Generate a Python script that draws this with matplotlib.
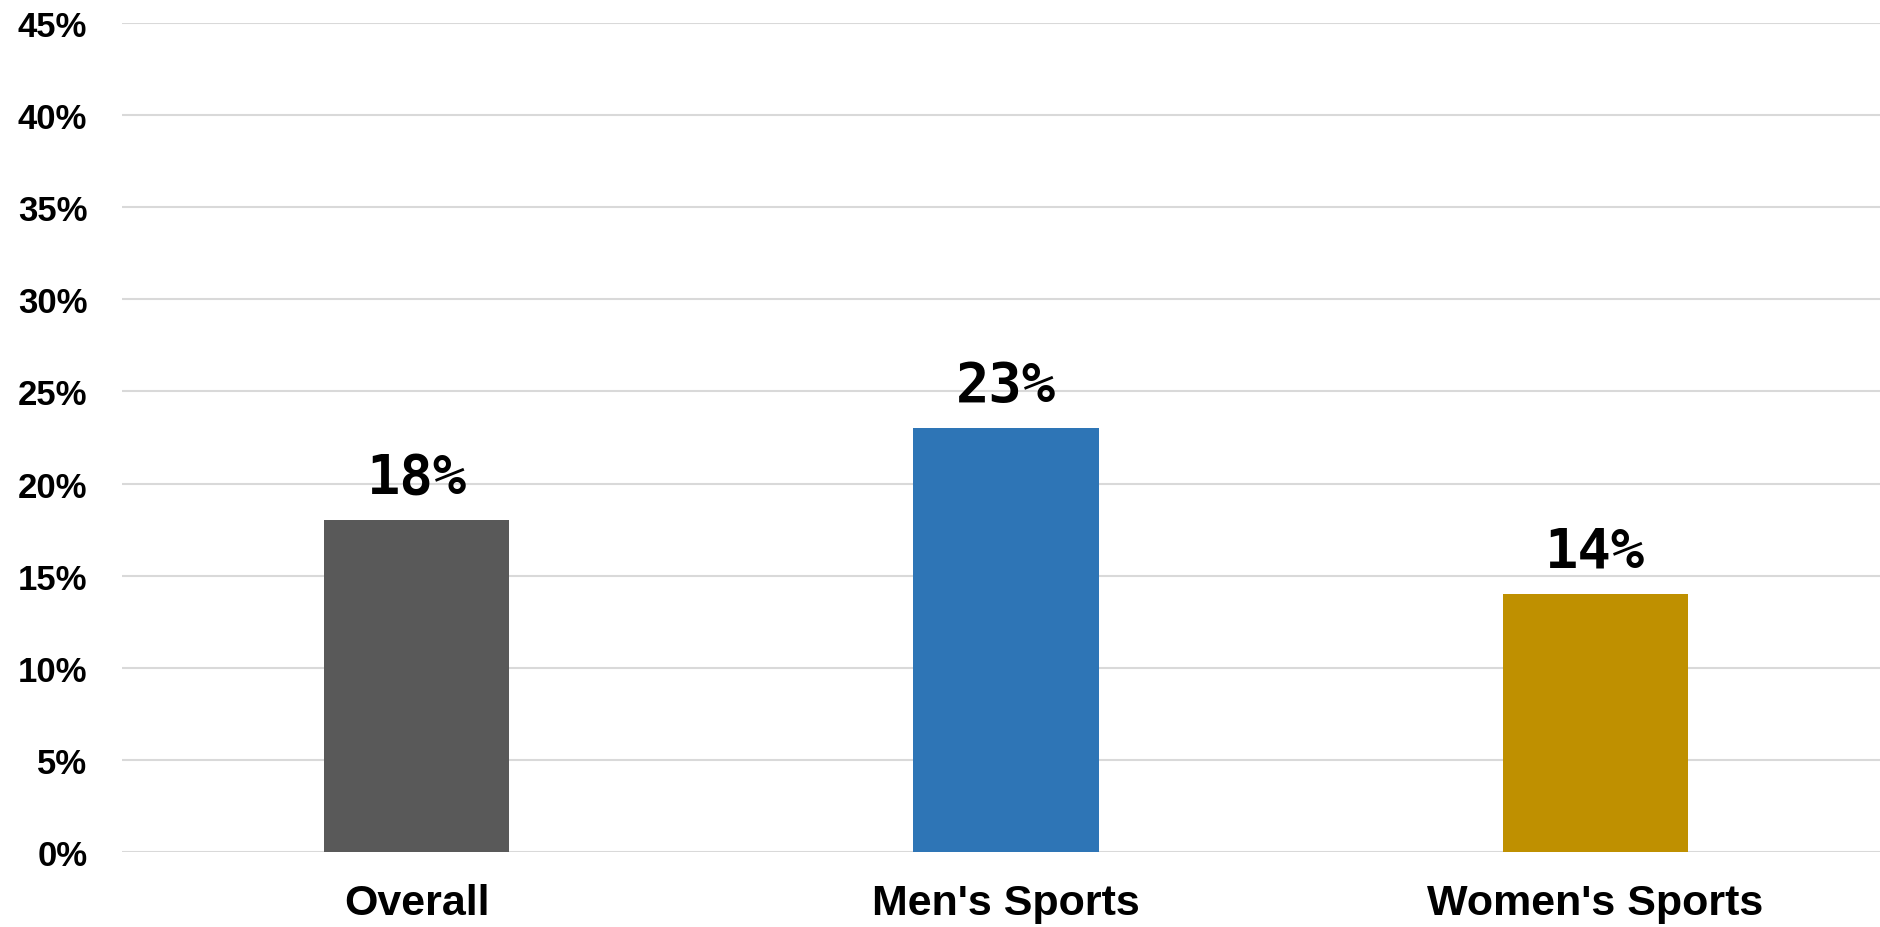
import matplotlib.pyplot as plt
from matplotlib.ticker import MultipleLocator, FuncFormatter

categories = ['Overall', "Men's Sports", "Women's Sports"]
values = [18, 23, 14]
colors = ['#595959', '#2E75B6', '#BF9000']

fig = plt.figure(figsize=(18.8, 9.28), dpi=100)
# plot area runs a little past the right edge of the canvas
ax = fig.add_axes([122/1880, 75/928, 1768/1880, 829/928])

x = range(len(categories))
bars = ax.bar(x, values, width=0.314, color=colors, zorder=3)

ax.set_xlim(-0.5, 2.5)
ax.set_ylim(0, 45)
ax.yaxis.set_major_locator(MultipleLocator(5))
ax.yaxis.set_major_formatter(FuncFormatter(lambda v, p: f'{v:.0f}%'))
ax.grid(axis='y', color='#D9D9D9', linewidth=1.5, zorder=0)
ax.set_axisbelow(True)
for s in ax.spines.values():
    s.set_visible(False)

ax.set_xticks(list(x))
ax.set_xticklabels(categories, fontfamily='Liberation Sans', fontweight='bold', fontsize=31)
ax.tick_params(axis='x', length=0, pad=22)
ax.tick_params(axis='y', length=0, pad=25)
for lab in ax.get_yticklabels():
    lab.set_fontfamily('Liberation Sans')
    lab.set_fontweight('bold')
    lab.set_fontsize(25)

for b, v in zip(bars, values):
    ax.annotate(f'{v}%', (b.get_x() + b.get_width() / 2, v), xytext=(0, 12),
                textcoords='offset points', ha='center', va='bottom',
                fontfamily='DejaVu Sans Mono', fontweight='bold', fontsize=40)

fig.savefig('out.png', dpi=100, facecolor='white')
